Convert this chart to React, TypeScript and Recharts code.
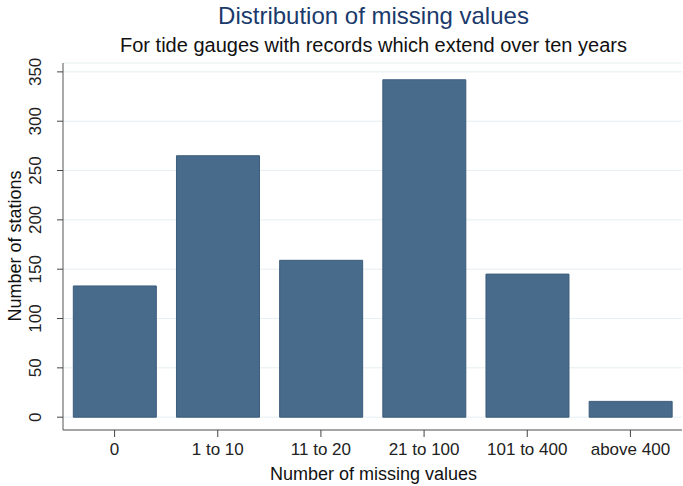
import { BarChart, Bar, XAxis, YAxis, CartesianGrid } from "recharts";

const categories = ["0", "1 to 10", "11 to 20", "21 to 100", "101 to 400", "above 400"];
const stations = [133, 265, 159, 342, 145, 16];
const yTicks = [0, 50, 100, 150, 200, 250, 300, 350];

const data = categories.map((c, i) => ({ name: c, count: stations[i] }));

const FONT = "'Liberation Sans', Arial, sans-serif";

const YTick = ({ x, y, payload }: { x?: number; y?: number; payload?: { value: number } }) => (
  <text
    x={0}
    y={0}
    transform={`translate(${(x ?? 0) - 14}, ${y}) rotate(-90)`}
    textAnchor="middle"
    fill="#222"
    fontSize={17}
    fontFamily={FONT}
  >
    {payload?.value}
  </text>
);

const XTick = ({ x, y, payload }: { x?: number; y?: number; payload?: { value: string } }) => (
  <text x={x} y={(y ?? 0) + 16} textAnchor="middle" fill="#222" fontSize={17} fontFamily={FONT}>
    {payload?.value}
  </text>
);

export default function App() {
  return (
    <div style={{ position: "absolute", left: 0, top: 0, width: 683, height: 486, background: "#fff", fontFamily: FONT }}>
      <div style={{ position: "absolute", top: 2, left: 64, width: 619, textAlign: "center", fontSize: 24, color: "#1a3a6b" }}>
        Distribution of missing values
      </div>
      <div style={{ position: "absolute", top: 34, left: 64, width: 619, textAlign: "center", fontSize: 20, color: "#111" }}>
        For tide gauges with records which extend over ten years
      </div>
      <div
        style={{
          position: "absolute",
          left: 15,
          top: 246,
          transform: "translate(-50%, -50%) rotate(-90deg)",
          whiteSpace: "nowrap",
          fontSize: 18,
          color: "#111",
        }}
      >
        Number of stations
      </div>
      <div style={{ position: "absolute", top: 464, left: 64, width: 619, textAlign: "center", fontSize: 18, color: "#111" }}>
        Number of missing values
      </div>
      <BarChart
        width={683}
        height={486}
        data={data}
        margin={{ top: 63, right: 1, left: 0, bottom: 26 }}
        barCategoryGap="10%"
      >
        <CartesianGrid horizontal vertical={false} stroke="#e6eff1" strokeWidth={1} />
        <XAxis
          dataKey="name"
          height={30}
          tick={<XTick />}
          tickLine={{ stroke: "#444" }}
          tickSize={7}
          axisLine={{ stroke: "#555" }}
          interval={0}
        />
        <YAxis
          width={63}
          domain={[-13, 359]}
          ticks={yTicks}
          allowDataOverflow
          tick={<YTick />}
          tickLine={{ stroke: "#444" }}
          tickSize={6}
          axisLine={{ stroke: "#555" }}
        />
        <Bar dataKey="count" fill="#486a8b" stroke="#3c5d7c" strokeWidth={1} isAnimationActive={false} />
      </BarChart>
    </div>
  );
}
